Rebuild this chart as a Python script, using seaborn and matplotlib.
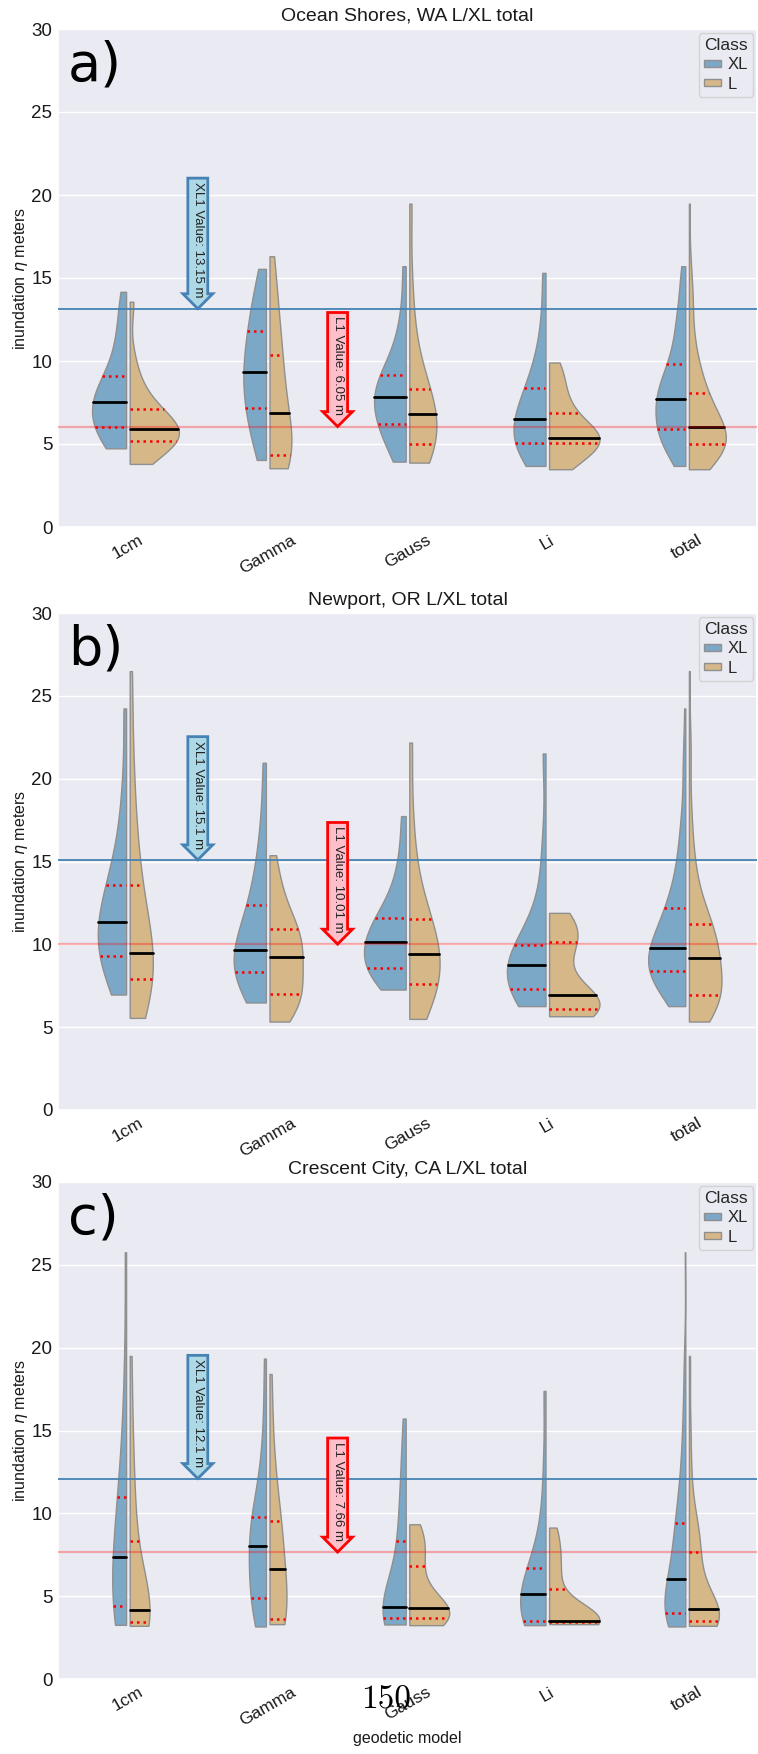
import numpy as np
import pandas as pd
import matplotlib
matplotlib.use("Agg")
import matplotlib.pyplot as plt
from matplotlib.collections import LineCollection, PolyCollection
from matplotlib.patches import Patch
from matplotlib.transforms import Affine2D
import seaborn as sns

# ---------------------------------------------------------------------------
# Inundation heights (m) per geodetic model and rupture class
# ---------------------------------------------------------------------------
models = ["1cm", "Gamma", "Gauss", "Li"]
order = models + ["total"]
classes = ["XL", "L"]
sites = ["Ocean Shores, WA", "Newport, OR", "Crescent City, CA"]
panel_tags = ["a)", "b)", "c)"]
xl1_values = [13.15, 15.1, 12.1]
l1_values = [6.05, 10.01, 7.66]

# Ocean Shores, WA
os_1cm_xl = [4.74, 5.0, 5.3, 5.55, 5.8, 6.04, 6.55, 6.85, 7.1, 7.3, 7.51, 7.75, 8.0, 8.35, 8.7, 9.11, 9.8, 10.6, 11.6, 12.8, 14.17]
os_1cm_l = [3.80, 4.45, 4.8, 5.0, 5.1, 5.18, 5.35, 5.48, 5.6, 5.72, 5.88, 6.0, 6.12, 6.3, 6.6, 7.09, 7.4, 7.9, 8.6, 10.0, 13.57]
os_gamma_xl = [4.04, 4.9, 5.6, 6.2, 6.7, 7.19, 7.7, 8.2, 8.6, 9.0, 9.35, 9.8, 10.3, 10.8, 11.3, 11.82, 12.4, 13.0, 13.7, 14.6, 15.55]
os_gamma_l = [3.54, 3.75, 3.95, 4.1, 4.22, 4.34, 4.7, 5.2, 5.7, 6.3, 6.89, 7.5, 8.2, 8.9, 9.6, 10.36, 11.2, 12.1, 13.2, 14.6, 16.31]
os_gauss_xl = [3.94, 4.6, 5.1, 5.5, 5.9, 6.20, 6.6, 6.95, 7.25, 7.55, 7.81, 8.05, 8.3, 8.55, 8.85, 9.17, 9.6, 10.3, 11.3, 12.8, 15.71]
os_gauss_l = [3.88, 4.1, 4.3, 4.5, 4.75, 4.98, 5.3, 5.65, 6.0, 6.4, 6.79, 7.1, 7.4, 7.7, 8.0, 8.29, 9.2, 10.3, 11.8, 14.5, 19.48]
os_li_xl = [3.68, 4.1, 4.4, 4.65, 4.85, 5.04, 5.3, 5.6, 5.9, 6.2, 6.48, 6.8, 7.1, 7.45, 7.9, 8.35, 8.9, 9.6, 10.6, 12.4, 15.31]
os_li_l = [3.48, 3.75, 4.05, 4.35, 4.7, 5.08, 5.14, 5.2, 5.26, 5.32, 5.38, 5.6, 5.9, 6.2, 6.55, 6.89, 7.4, 7.95, 8.6, 9.3, 9.91]

# Newport, OR
np_1cm_xl = [6.97, 7.8, 8.4, 8.8, 9.05, 9.27, 9.7, 10.1, 10.5, 10.9, 11.32, 11.7, 12.1, 12.6, 13.1, 13.61, 14.4, 15.5, 17.0, 19.5, 24.24]
np_1cm_l = [5.56, 6.3, 6.9, 7.3, 7.6, 7.92, 8.3, 8.6, 8.9, 9.2, 9.47, 10.0, 10.8, 11.7, 12.6, 13.61, 14.8, 16.3, 18.5, 21.5, 26.49]
np_gamma_xl = [6.49, 7.1, 7.5, 7.8, 8.1, 8.36, 8.6, 8.85, 9.1, 9.35, 9.63, 10.1, 10.6, 11.2, 11.8, 12.40, 13.2, 14.2, 15.6, 17.5, 20.96]
np_gamma_l = [5.34, 5.8, 6.2, 6.5, 6.8, 7.03, 7.3, 7.7, 8.3, 8.9, 9.25, 9.6, 9.9, 10.2, 10.5, 10.90, 11.3, 11.9, 12.7, 13.8, 15.38]
np_gauss_xl = [7.27, 7.6, 7.9, 8.15, 8.4, 8.58, 8.9, 9.2, 9.5, 9.8, 10.13, 10.4, 10.7, 10.95, 11.25, 11.58, 12.1, 12.8, 13.8, 15.3, 17.74]
np_gauss_l = [5.50, 6.2, 6.7, 7.0, 7.3, 7.60, 8.0, 8.4, 8.75, 9.1, 9.41, 9.8, 10.2, 10.6, 11.0, 11.50, 12.2, 13.2, 14.8, 17.5, 22.18]
np_li_xl = [6.27, 6.6, 6.85, 7.0, 7.15, 7.33, 7.6, 7.9, 8.2, 8.5, 8.78, 9.0, 9.25, 9.5, 9.7, 9.95, 10.5, 11.5, 13.2, 16.0, 21.52]
np_li_l = [5.66, 5.8, 5.9, 5.98, 6.05, 6.11, 6.25, 6.4, 6.55, 6.72, 6.93, 7.3, 8.0, 9.2, 9.8, 10.15, 10.5, 10.85, 11.2, 11.55, 11.90]

# Crescent City, CA
cc_1cm_xl = [3.27, 3.5, 3.75, 3.95, 4.2, 4.42, 4.9, 5.5, 6.1, 6.7, 7.35, 8.0, 8.7, 9.4, 10.2, 10.96, 12.0, 13.5, 15.5, 19.0, 25.76]
cc_1cm_l = [3.21, 3.28, 3.33, 3.38, 3.42, 3.47, 3.6, 3.75, 3.9, 4.02, 4.16, 4.5, 5.0, 5.8, 7.0, 8.33, 9.5, 11.0, 13.0, 15.5, 19.50]
cc_gamma_xl = [3.17, 3.6, 4.0, 4.3, 4.6, 4.90, 5.6, 6.3, 7.0, 7.6, 8.03, 8.4, 8.75, 9.05, 9.4, 9.76, 10.5, 11.5, 13.0, 15.5, 19.34]
cc_gamma_l = [3.31, 3.4, 3.47, 3.52, 3.57, 3.61, 4.1, 4.7, 5.3, 6.0, 6.65, 7.3, 7.9, 8.5, 9.0, 9.54, 10.3, 11.3, 12.8, 15.0, 18.41]
cc_gauss_xl = [3.29, 3.4, 3.5, 3.57, 3.63, 3.69, 3.8, 3.95, 4.08, 4.2, 4.34, 4.8, 5.5, 6.3, 7.3, 8.33, 9.3, 10.4, 11.8, 13.5, 15.72]
cc_gauss_l = [3.25, 3.4, 3.5, 3.58, 3.65, 3.71, 3.82, 3.95, 4.05, 4.15, 4.26, 4.5, 4.9, 5.4, 6.1, 6.83, 7.4, 7.9, 8.4, 8.9, 9.34]
cc_li_xl = [3.25, 3.32, 3.38, 3.43, 3.47, 3.51, 3.9, 4.3, 4.6, 4.88, 5.14, 5.4, 5.7, 6.0, 6.35, 6.69, 7.4, 8.4, 10.0, 12.8, 17.39]
cc_li_l = [3.31, 3.34, 3.37, 3.39, 3.41, 3.43, 3.45, 3.46, 3.48, 3.49, 3.51, 3.55, 3.65, 3.85, 4.3, 5.44, 6.2, 6.9, 7.6, 8.4, 9.14]

site_series = [
    {("1cm", "XL"): os_1cm_xl, ("1cm", "L"): os_1cm_l,
     ("Gamma", "XL"): os_gamma_xl, ("Gamma", "L"): os_gamma_l,
     ("Gauss", "XL"): os_gauss_xl, ("Gauss", "L"): os_gauss_l,
     ("Li", "XL"): os_li_xl, ("Li", "L"): os_li_l},
    {("1cm", "XL"): np_1cm_xl, ("1cm", "L"): np_1cm_l,
     ("Gamma", "XL"): np_gamma_xl, ("Gamma", "L"): np_gamma_l,
     ("Gauss", "XL"): np_gauss_xl, ("Gauss", "L"): np_gauss_l,
     ("Li", "XL"): np_li_xl, ("Li", "L"): np_li_l},
    {("1cm", "XL"): cc_1cm_xl, ("1cm", "L"): cc_1cm_l,
     ("Gamma", "XL"): cc_gamma_xl, ("Gamma", "L"): cc_gamma_l,
     ("Gauss", "XL"): cc_gauss_xl, ("Gauss", "L"): cc_gauss_l,
     ("Li", "XL"): cc_li_xl, ("Li", "L"): cc_li_l},
]


def build_frame(series):
    rows = []
    for m in models:
        for c in classes:
            for v in series[(m, c)]:
                rows.append((m, c, v))
    # "total" pools every model of the same class
    for c in classes:
        for m in models:
            for v in series[(m, c)]:
                rows.append(("total", c, v))
    return pd.DataFrame(rows, columns=["geodetic model", "Class", "eta"])


# ---------------------------------------------------------------------------
# Styling
# ---------------------------------------------------------------------------
sns.set_theme(style="darkgrid")
plt.rcParams["font.family"] = ["Liberation Sans", "DejaVu Sans"]
plt.rcParams["mathtext.fontset"] = "dejavusans"

palette = {"XL": "#7ca8c8", "L": "#d6b888"}
edge_gray = "#8f8f8f"
# pull the split halves slightly back toward the category centre
HALF_GAP = -0.007

W, H = 758, 1754
fig = plt.figure(figsize=(W / 100, H / 100), dpi=100)

# axes extents in pixels: (top, bottom)
ax_rows = [(29, 527), (613, 1110), (1182, 1679)]
ax_left, ax_right = 58, 757


def side_shift(xs):
    """Left halves get -HALF_GAP direction, right halves +HALF_GAP."""
    xs = np.asarray(xs, dtype=float)
    m = xs.mean()
    c = np.round(m)
    return -HALF_GAP if m < c else HALF_GAP


def separate_halves(ax):
    for coll in ax.collections:
        if isinstance(coll, PolyCollection):
            paths = coll.get_paths()
            if not paths:
                continue
            xs = np.concatenate([p.vertices[:, 0] for p in paths])
            shift = side_shift(xs)
            coll.set_transform(Affine2D().translate(shift, 0) + ax.transData)
    for ln in ax.lines:
        xs = ln.get_xdata()
        if len(xs):
            shift = side_shift(xs)
            ln.set_xdata(np.asarray(xs, dtype=float) + shift)


def style_quartiles(ax):
    lines = list(ax.lines)
    for i in range(0, len(lines) - len(lines) % 3, 3):
        trio = lines[i:i + 3]
        ys = [np.mean(l.get_ydata()) for l in trio]
        mid = int(np.argsort(ys)[1])
        for j, ln in enumerate(trio):
            if j == mid:
                ln.set_color("black")
                ln.set_linestyle("-")
                ln.set_linewidth(2.0)
            else:
                ln.set_color("red")
                ln.set_linestyle((0, (1.0, 1.6)))
                ln.set_linewidth(1.8)
            ln.set_zorder(3)
    for coll in ax.collections:
        if isinstance(coll, LineCollection):
            n = len(coll.get_segments())
            if n == 0 or n % 3:
                continue
            colors = ["black" if i % 3 == 1 else "red" for i in range(n)]
            styles = ["solid" if i % 3 == 1 else (0, (1.0, 1.6)) for i in range(n)]
            widths = [2.0 if i % 3 == 1 else 1.8 for i in range(n)]
            coll.set_colors(colors)
            coll.set_linestyles(styles)
            coll.set_linewidths(widths)
            coll.set_zorder(3)


for k, (site, series) in enumerate(zip(sites, site_series)):
    top, bot = ax_rows[k]
    ax = fig.add_axes([ax_left / W, 1 - bot / H, (ax_right - ax_left) / W, (bot - top) / H])
    df = build_frame(series)

    sns.violinplot(
        data=df, x="geodetic model", y="eta", hue="Class",
        order=order, hue_order=classes, palette=palette, saturation=1,
        split=True, inner="quart", cut=0, gap=0.1, common_norm=True,
        linewidth=1.0, linecolor=edge_gray, legend=False, ax=ax,
    )
    style_quartiles(ax)
    separate_halves(ax)

    # event reference levels
    xl1 = xl1_values[k]
    l1 = l1_values[k]
    ax.axhline(xl1, color="steelblue", lw=1.3, zorder=4)
    ax.axhline(l1, color="red", alpha=0.3, lw=1.6, zorder=4)

    ax.annotate(
        f"XL1 Value: {xl1} m", xy=(0.5, xl1), xytext=(0, 8),
        textcoords="offset points", rotation=-90, ha="center", va="bottom",
        fontsize=9.5, color="#222222",
        bbox=dict(boxstyle="rarrow,pad=0.3", fc="lightblue", ec="steelblue", lw=2),
        zorder=5,
    )
    ax.annotate(
        f"L1 Value: {l1} m", xy=(1.5, l1), xytext=(0, 8),
        textcoords="offset points", rotation=-90, ha="center", va="bottom",
        fontsize=9.5, color="#222222",
        bbox=dict(boxstyle="rarrow,pad=0.3", fc="pink", ec="red", lw=2),
        zorder=5,
    )

    ax.set_xlim(-0.5, 4.5)
    ax.set_ylim(0, 30)
    ax.set_yticks(range(0, 31, 5))
    ax.tick_params(axis="both", length=0, pad=4)
    ax.tick_params(axis="y", labelsize=13.5, labelcolor="#1a1a1a")
    ax.set_xticks(range(len(order)))
    ax.set_xticklabels(order, rotation=30, ha="center", fontsize=12.5, color="#1a1a1a")
    ax.set_ylabel(r"inundation $\eta$ meters", fontsize=11.5, color="#1a1a1a", labelpad=1)
    if k == len(sites) - 1:
        ax.set_xlabel("geodetic model", fontsize=11.5, color="#1a1a1a", labelpad=2)
    else:
        ax.set_xlabel("")
    ax.set_title(f"{site} L/XL total", fontsize=14, color="#1a1a1a", pad=6)

    handles = [Patch(facecolor=palette[c], edgecolor=edge_gray, lw=1) for c in classes]
    leg = ax.legend(
        handles, classes, title="Class", loc="upper right", bbox_to_anchor=(1.0, 1.0),
        fontsize=12, title_fontsize=12.5, handlelength=1.0, handleheight=0.3,
        handletextpad=0.4, borderaxespad=0.25, borderpad=0.3, labelspacing=0.25,
        frameon=True,
    )
    leg.get_frame().set_facecolor("#eaeaf2")
    leg.get_frame().set_edgecolor("#cccccc")

    ax.text(0.014, 0.978, panel_tags[k], transform=ax.transAxes, fontsize=39,
            family="DejaVu Sans", ha="left", va="top", color="black", zorder=6)

fig.text(386 / W, 1 - 1700 / H, "150", family="cmr10", fontsize=24,
         ha="center", va="center", color="black")

fig.savefig("out.png", dpi=100)
